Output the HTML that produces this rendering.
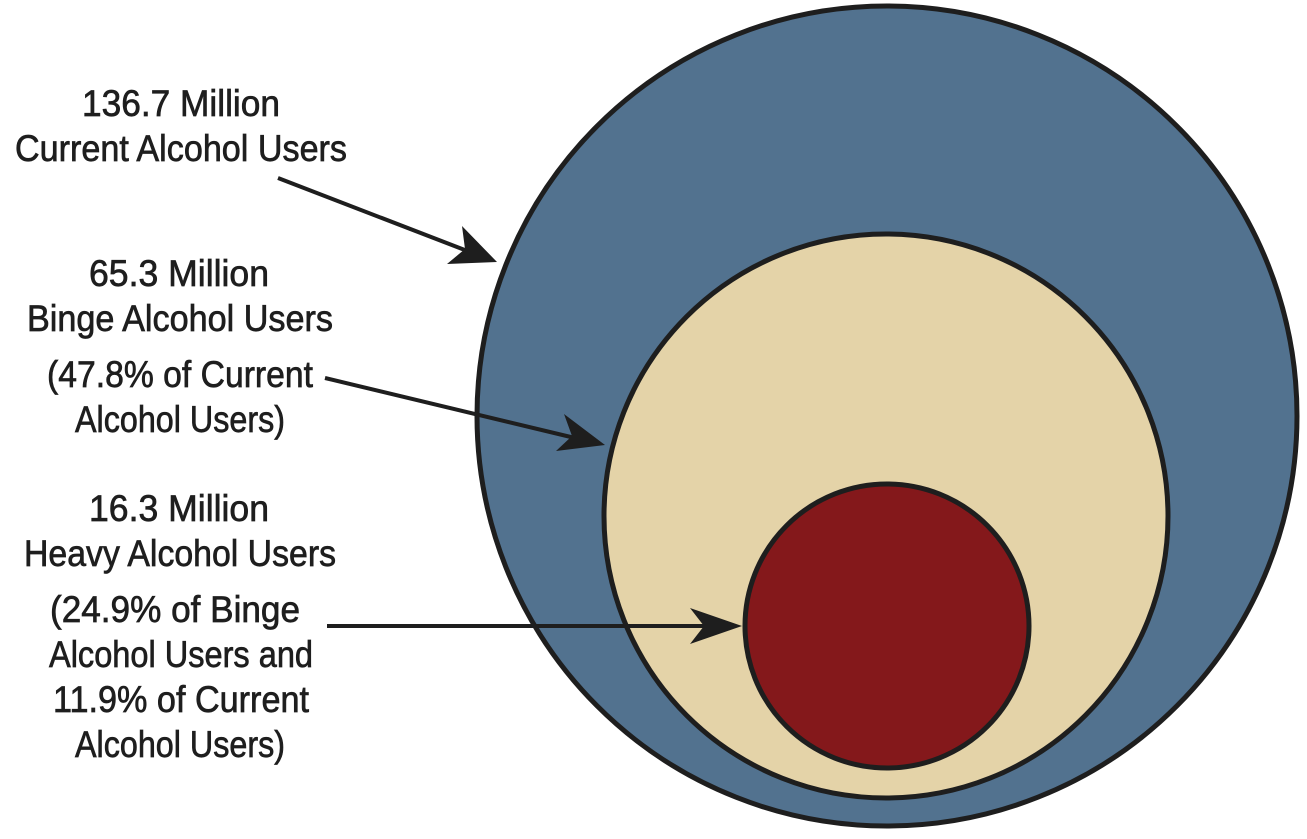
<!DOCTYPE html>
<html><head><meta charset="utf-8"><style>html,body{margin:0;padding:0;background:#fff}svg{display:block}</style></head>
<body>
<svg width="1307" height="839" viewBox="0 0 1307 839" xmlns="http://www.w3.org/2000/svg">
<circle cx="887" cy="416" r="410" fill="#52728f" stroke="#1e1e1e" stroke-width="5"/>
<circle cx="886" cy="516" r="282" fill="#e4d3a8" stroke="#1e1e1e" stroke-width="5"/>
<circle cx="887" cy="626" r="142" fill="#84181b" stroke="#1e1e1e" stroke-width="5"/>
<g stroke="#1e1e1e" stroke-width="4" fill="none">
<line x1="278" y1="178" x2="470" y2="252"/>
<line x1="325" y1="378" x2="575" y2="438"/>
<line x1="327" y1="626" x2="710" y2="626"/>
</g>
<g fill="#1e1e1e">
<polygon points="497,262 447,264 465,249 462,226"/>
<polygon points="605,445 556,451 572,436 564,414"/>
<polygon points="742,626 690,644 704,626 690,608"/>
</g>
<g font-family="'Liberation Sans Narrow','Liberation Sans',sans-serif" font-size="37" fill="#1e1e1e" stroke="#1e1e1e" stroke-width="0.7" text-anchor="middle">
<text x="181" y="116" textLength="198" lengthAdjust="spacingAndGlyphs">136.7 Million</text>
<text x="181" y="161" textLength="332" lengthAdjust="spacingAndGlyphs">Current Alcohol Users</text>
<text x="179" y="286" textLength="180" lengthAdjust="spacingAndGlyphs">65.3 Million</text>
<text x="180" y="331" textLength="306" lengthAdjust="spacingAndGlyphs">Binge Alcohol Users</text>
<text x="180" y="387" textLength="266" lengthAdjust="spacingAndGlyphs">(47.8% of Current</text>
<text x="180" y="432" textLength="210" lengthAdjust="spacingAndGlyphs">Alcohol Users)</text>
<text x="179" y="521" textLength="180" lengthAdjust="spacingAndGlyphs">16.3 Million</text>
<text x="180" y="566" textLength="312" lengthAdjust="spacingAndGlyphs">Heavy Alcohol Users</text>
<text x="175" y="622" textLength="250" lengthAdjust="spacingAndGlyphs">(24.9% of Binge</text>
<text x="181" y="667" textLength="264" lengthAdjust="spacingAndGlyphs">Alcohol Users and</text>
<text x="181" y="712" textLength="256" lengthAdjust="spacingAndGlyphs">11.9% of Current</text>
<text x="180" y="757" textLength="210" lengthAdjust="spacingAndGlyphs">Alcohol Users)</text>
</g>
</svg>
</body></html>
